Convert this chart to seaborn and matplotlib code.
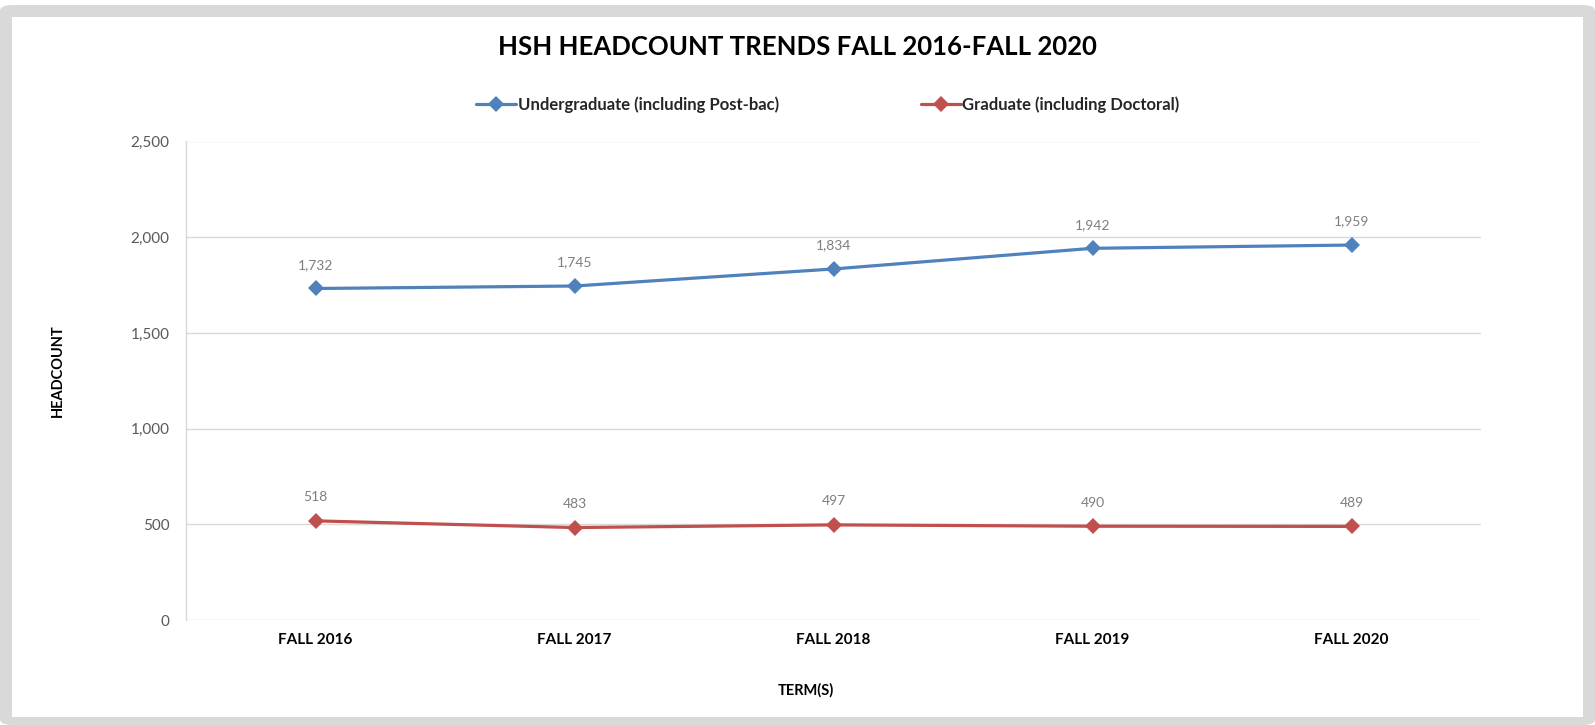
import matplotlib
matplotlib.use("Agg")
import matplotlib.pyplot as plt
import seaborn as sns
import pandas as pd
from matplotlib.patches import Rectangle, FancyBboxPatch
from matplotlib.ticker import FuncFormatter, MultipleLocator

terms = ["FALL 2016", "FALL 2017", "FALL 2018", "FALL 2019", "FALL 2020"]
undergrad = [1732, 1745, 1834, 1942, 1959]
graduate = [518, 483, 497, 490, 489]
series_names = ["Undergraduate (including Post-bac)", "Graduate (including Doctoral)"]
colors = ["#4F81BD", "#C0504D"]

df = pd.DataFrame({
    "term": terms * 2,
    "value": undergrad + graduate,
    "series": [series_names[0]] * len(terms) + [series_names[1]] * len(terms),
})

sns.set_theme(style="white")
plt.rcParams["font.family"] = ["Lato", "DejaVu Sans"]

W, H = 1595, 725
fig = plt.figure(figsize=(W / 100, H / 100), dpi=100)
fig.patch.set_facecolor("white")

# frame
fig.patches.append(FancyBboxPatch((0, 0), 1.0, 1 - 5 / H, boxstyle="round,pad=0,rounding_size=0.008",
                                  transform=fig.transFigure, facecolor="#D9D9D9", edgecolor="none", zorder=-10))
fig.patches.append(Rectangle((12 / W, 8 / H), (1583 - 12) / W, (717 - 17) / H,
                             transform=fig.transFigure, facecolor="white", edgecolor="none", zorder=-9))

ax = fig.add_axes([186 / W, 105 / H, (1481 - 186) / W, (620 - 141.5) / H])
ax.set_facecolor("white")

sns.lineplot(data=df, x="term", y="value", hue="series", palette=colors, hue_order=series_names,
             marker="D", markersize=8, markeredgewidth=0, linewidth=2.3, sort=False, ax=ax,
             legend=True)

for vals, col in [(undergrad, colors[0]), (graduate, colors[1])]:
    for i, v in enumerate(vals):
        ax.annotate(f"{v:,}", (i, v), xytext=(0, 17), textcoords="offset points",
                    ha="center", va="center", fontsize=10, color="#7F7F7F")

ax.set_xlim(-0.5, len(terms) - 0.5)
ax.set_ylim(0, 2500)
ax.yaxis.set_major_locator(MultipleLocator(500))
ax.yaxis.set_major_formatter(FuncFormatter(lambda v, p: f"{int(v):,}"))
ax.grid(axis="y", color="#D9D9D9", linewidth=1)
ax.set_axisbelow(True)
for s in ["top", "right", "bottom"]:
    ax.spines[s].set_visible(False)
ax.spines["left"].set_color("#D9D9D9")
ax.spines["left"].set_linewidth(1)

ax.tick_params(axis="y", length=0, pad=12, labelsize=11, labelcolor="#595959")
ax.tick_params(axis="x", length=0, pad=9, labelsize=11, labelcolor="black")
for t in ax.get_xticklabels():
    t.set_fontweight("bold")

ax.set_ylabel("HEADCOUNT", fontsize=10.5, fontweight="bold", color="black")
ax.yaxis.set_label_coords((65 - 186) / 1295, 0.522)
ax.set_xlabel("TERM(S)", fontsize=10.5, fontweight="bold", color="black")
ax.xaxis.set_label_coords((806 - 186) / 1295, (620 - 683) / 478.5)

handles, labels = ax.get_legend_handles_labels()
ax.legend_.remove()
leg = fig.legend(handles, labels, loc="center", bbox_to_anchor=(828 / W, 1 - 105 / H), ncol=2,
                 frameon=False, columnspacing=8.5, handlelength=2.4, handletextpad=0.1,
                 prop={"weight": "bold", "size": 12})

fig.text(797 / W, 1 - 47 / H, "HSH HEADCOUNT TRENDS FALL 2016-FALL 2020", ha="center", va="center",
         fontsize=18.5, fontweight="bold", color="black")

fig.savefig("out.png", dpi=100, facecolor=fig.get_facecolor())
